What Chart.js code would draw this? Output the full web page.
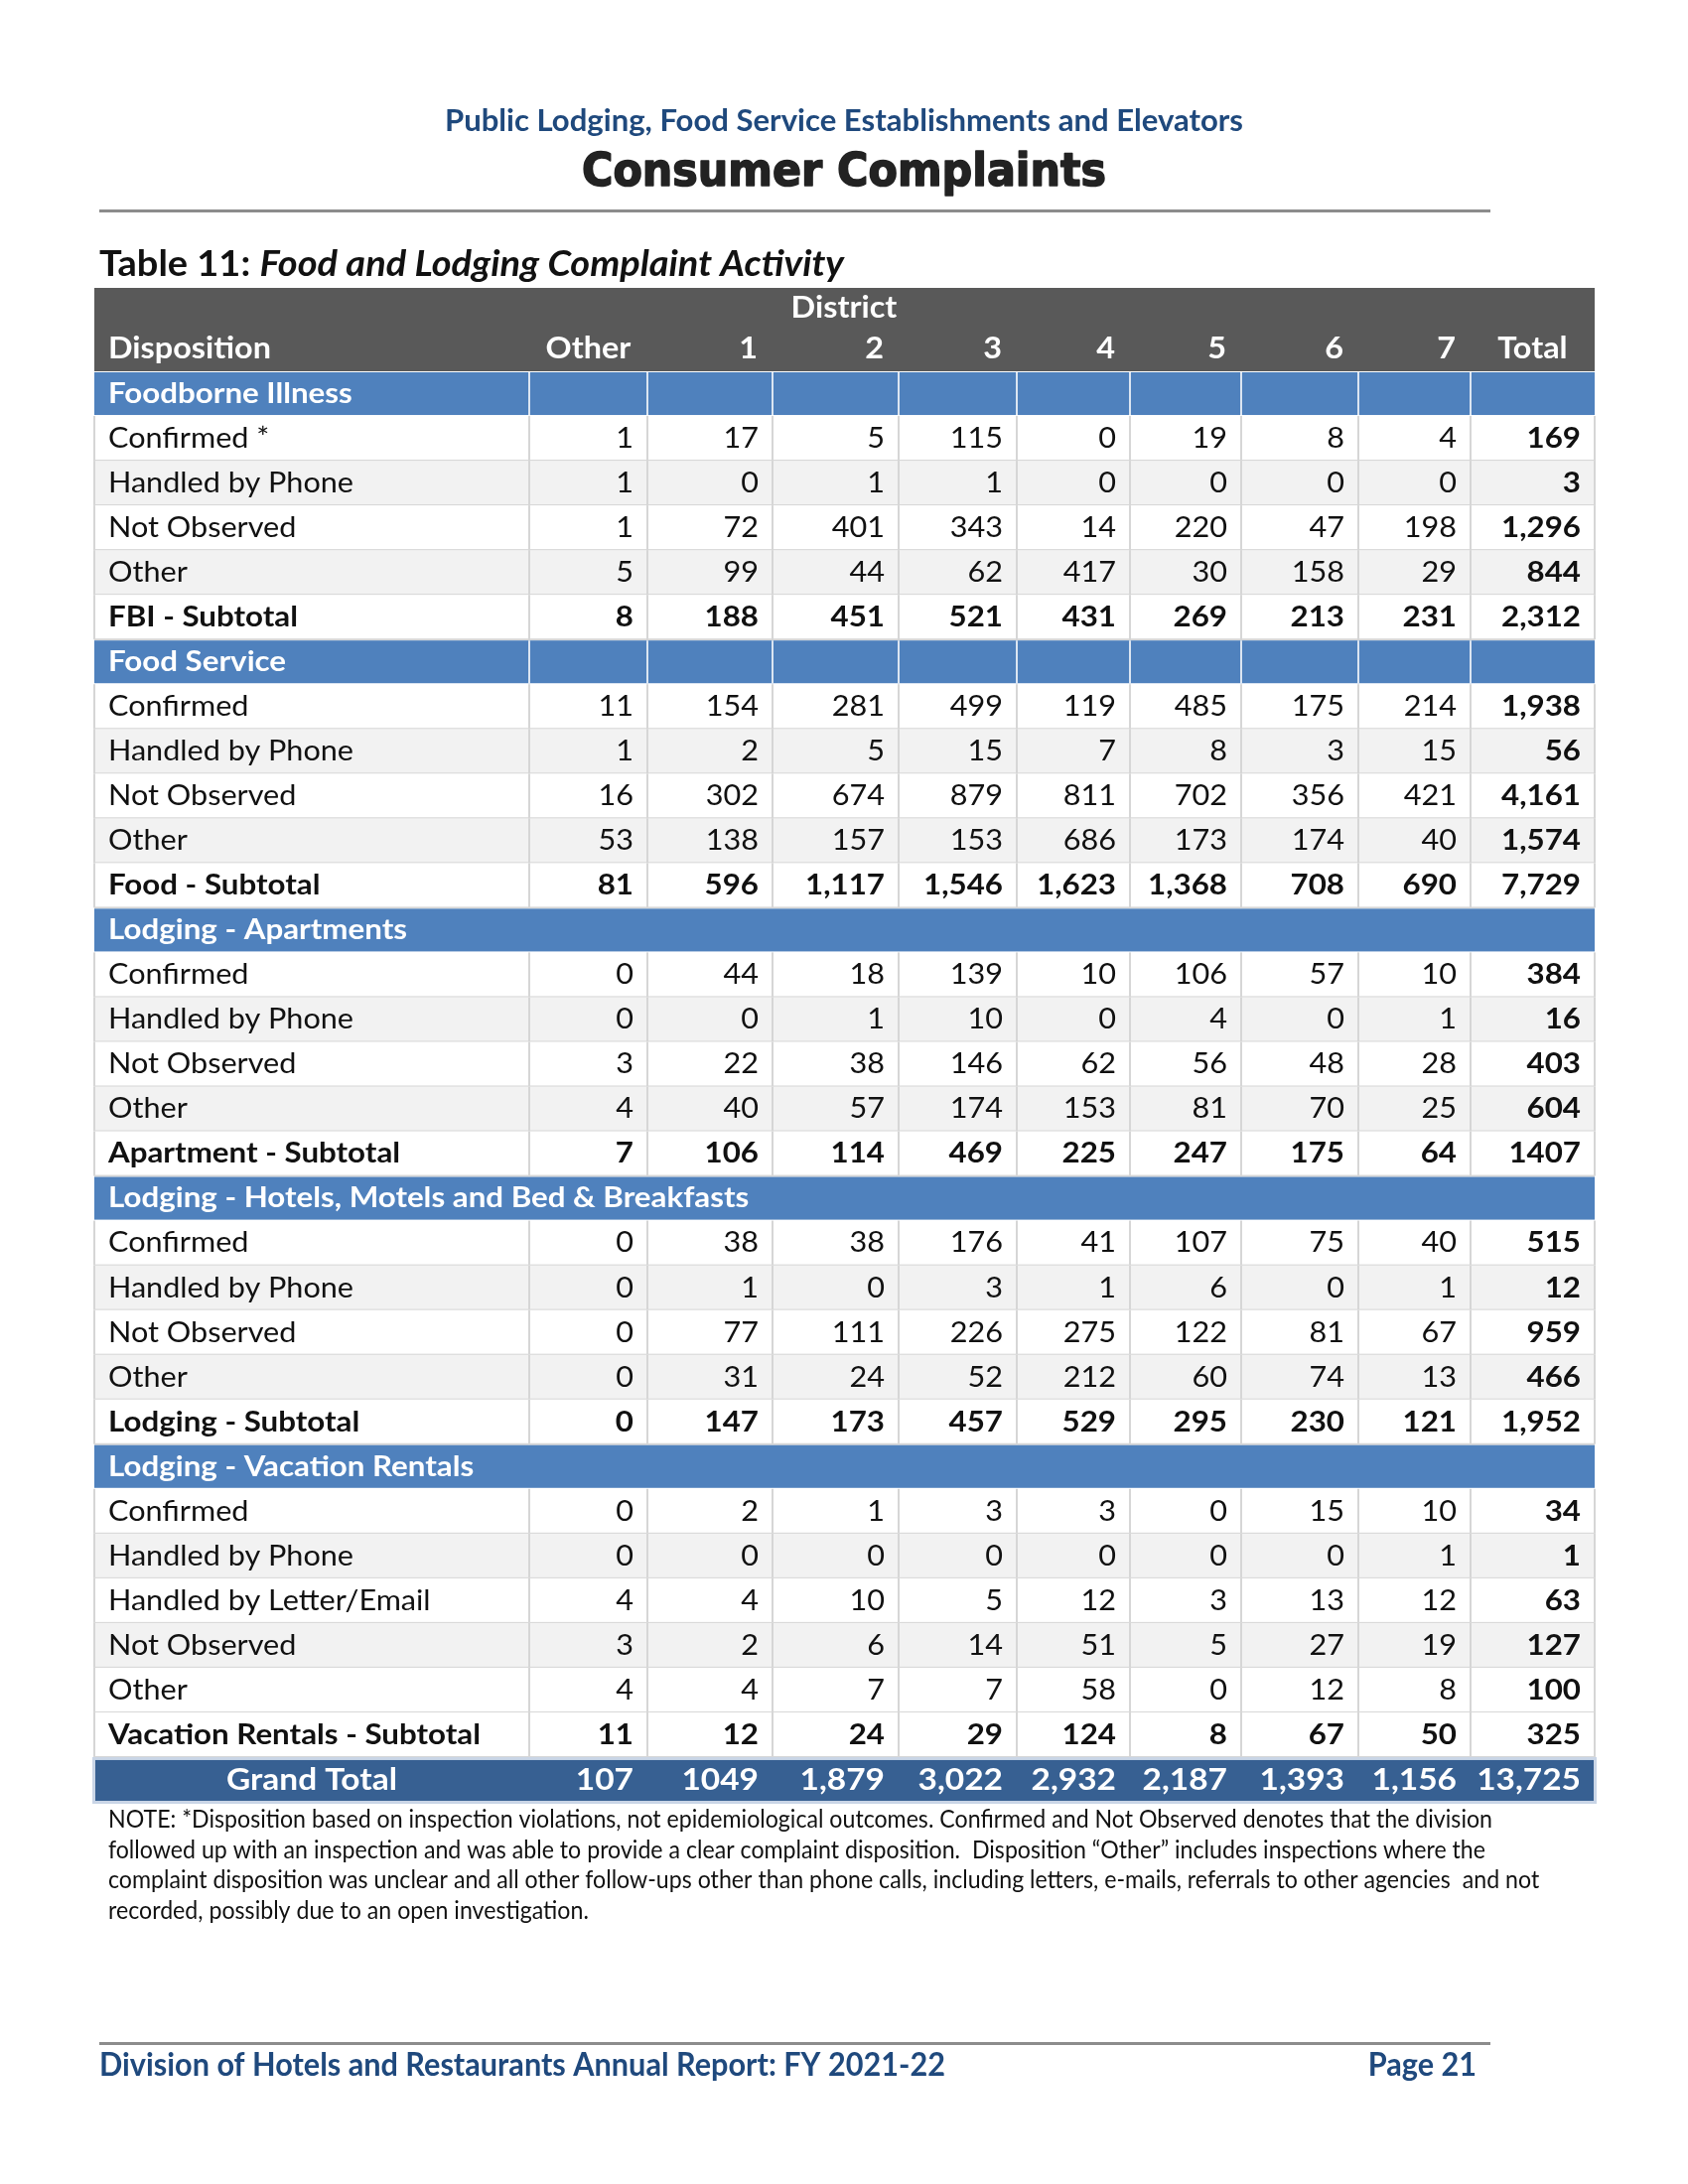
<!DOCTYPE html>
<html>
<head>
<meta charset="utf-8">
<script src="https://cdn.jsdelivr.net/npm/chart.js@4/dist/chart.umd.min.js"></script>
<style>
  html, body { margin: 0; padding: 0; background: #fff; }
  canvas { display: block; }
</style>
</head>
<body>
<canvas id="page" width="1700" height="2200"></canvas>
<script>
// columns of the table
const columns = ["Other", "1", "2", "3", "4", "5", "6", "7", "Total"];

// Foodborne Illness
const fbiLabels = ["Confirmed *", "Handled by Phone", "Not Observed", "Other", "FBI - Subtotal"];
const fbiValues = [
  [1, 17, 5, 115, 0, 19, 8, 4, 169],
  [1, 0, 1, 1, 0, 0, 0, 0, 3],
  [1, 72, 401, 343, 14, 220, 47, 198, 1296],
  [5, 99, 44, 62, 417, 30, 158, 29, 844],
  [8, 188, 451, 521, 431, 269, 213, 231, 2312]
];

// Food Service
const foodLabels = ["Confirmed", "Handled by Phone", "Not Observed", "Other", "Food - Subtotal"];
const foodValues = [
  [11, 154, 281, 499, 119, 485, 175, 214, 1938],
  [1, 2, 5, 15, 7, 8, 3, 15, 56],
  [16, 302, 674, 879, 811, 702, 356, 421, 4161],
  [53, 138, 157, 153, 686, 173, 174, 40, 1574],
  [81, 596, 1117, 1546, 1623, 1368, 708, 690, 7729]
];

// Lodging - Apartments
const aptLabels = ["Confirmed", "Handled by Phone", "Not Observed", "Other", "Apartment - Subtotal"];
const aptValues = [
  [0, 44, 18, 139, 10, 106, 57, 10, 384],
  [0, 0, 1, 10, 0, 4, 0, 1, 16],
  [3, 22, 38, 146, 62, 56, 48, 28, 403],
  [4, 40, 57, 174, 153, 81, 70, 25, 604],
  [7, 106, 114, 469, 225, 247, 175, 64, 1407]
];

// Lodging - Hotels, Motels and B&B
const hotelLabels = ["Confirmed", "Handled by Phone", "Not Observed", "Other", "Lodging - Subtotal"];
const hotelValues = [
  [0, 38, 38, 176, 41, 107, 75, 40, 515],
  [0, 1, 0, 3, 1, 6, 0, 1, 12],
  [0, 77, 111, 226, 275, 122, 81, 67, 959],
  [0, 31, 24, 52, 212, 60, 74, 13, 466],
  [0, 147, 173, 457, 529, 295, 230, 121, 1952]
];

// Lodging - Vacation Rentals
const vacLabels = ["Confirmed", "Handled by Phone", "Handled by Letter/Email", "Not Observed", "Other", "Vacation Rentals - Subtotal"];
const vacValues = [
  [0, 2, 1, 3, 3, 0, 15, 10, 34],
  [0, 0, 0, 0, 0, 0, 0, 1, 1],
  [4, 4, 10, 5, 12, 3, 13, 12, 63],
  [3, 2, 6, 14, 51, 5, 27, 19, 127],
  [4, 4, 7, 7, 58, 0, 12, 8, 100],
  [11, 12, 24, 29, 124, 8, 67, 50, 325]
];

const grandTotal = [107, 1049, 1879, 3022, 2932, 2187, 1393, 1156, 13725];

const sectionTitles = ["Foodborne Illness", "Food Service", "Lodging - Apartments",
  "Lodging - Hotels, Motels and Bed & Breakfasts", "Lodging - Vacation Rentals"];

// cells printed without thousands separator in the report
const noComma = ["Apartment - Subtotal|8", "Grand Total|1"];

const noteLines = [
  "NOTE: *Disposition based on inspection violations, not epidemiological outcomes. Confirmed and Not Observed denotes that the division",
  "followed up with an inspection and was able to provide a clear complaint disposition.  Disposition \u201cOther\u201d includes inspections where the",
  "complaint disposition was unclear and all other follow-ups other than phone calls, including letters, e-mails, referrals to other agencies  and not",
  "recorded, possibly due to an open investigation."
];

// ---- layout (page pixels) ----
const colEdges = [0, 438, 557, 683, 810, 929, 1043, 1155, 1273, 1386, 1511];
const dividedSections = [true, true, false, false, false];
const BODY = "Lato, 'Open Sans', sans-serif";
const C = {
  header: '#595959', section: '#4f81bd', grand: '#376092', stripe: '#f2f2f2',
  grid: '#d6d6d6', navy: '#1f497d', text: '#111'
};

// build rows
const sections = [
  [fbiLabels, fbiValues], [foodLabels, foodValues], [aptLabels, aptValues],
  [hotelLabels, hotelValues], [vacLabels, vacValues]
];
const rows = [];
sections.forEach(([labels, values], s) => {
  rows.push({ kind: 'section', label: sectionTitles[s], sec: s });
  labels.forEach((lab, j) => {
    const sub = j === labels.length - 1;
    rows.push({ kind: sub ? 'subtotal' : 'data', label: lab, values: values[j], stripe: !sub && j % 2 === 1 });
  });
});
rows.push({ kind: 'grand', label: 'Grand Total', values: grandTotal });

function fmt(label, c, n) {
  if (noComma.includes(label + '|' + c)) return String(n);
  return n.toLocaleString('en-US');
}

function txt(ctx, s, x, y, font, color, align, sx, stroke) {
  ctx.save();
  ctx.font = font;
  ctx.fillStyle = color;
  ctx.textAlign = align || 'left';
  ctx.textBaseline = 'middle';
  ctx.translate(x, y);
  ctx.scale(sx || 1, 1);
  if (stroke) {
    ctx.strokeStyle = color;
    ctx.lineWidth = stroke;
    ctx.lineJoin = 'round';
    ctx.strokeText(s, 0, 0);
  }
  ctx.fillText(s, 0, 0);
  ctx.restore();
}
function fitScale(ctx, s, font, w) {
  ctx.save(); ctx.font = font;
  const m = ctx.measureText(s).width;
  ctx.restore();
  return w / m;
}

const tablePlugin = {
  id: 'tablePlugin',
  afterDraw(chart) {
    const ctx = chart.ctx;
    const xs = chart.scales.x, ys = chart.scales.y;
    const E = colEdges.map(v => xs.getPixelForValue(v));
    const L = E[0], R = E[E.length - 1];
    const band = ys.getPixelForValue(1) - ys.getPixelForValue(0);

    const fReg = "29px " + BODY, fBold = "bold 29px " + BODY;
    const sxR = fitScale(ctx, 'Handled by Phone', fReg, 247);
    const sxB = fitScale(ctx, 'Vacation Rentals - Subtotal', fBold, 375);

    // page titles
    const fSub = "bold 31px " + BODY;
    txt(ctx, 'Public Lodging, Food Service Establishments and Elevators', 850, 122, fSub, C.navy, 'center',
      fitScale(ctx, 'Public Lodging, Food Service Establishments and Elevators', fSub, 804));
    const fBig = "bold 46px 'DejaVu Sans', sans-serif";
    txt(ctx, 'Consumer Complaints', 850, 175, fBig, '#222', 'center', fitScale(ctx, 'Consumer Complaints', fBig, 528), 1.6);
    ctx.fillStyle = '#8c8c8c';
    ctx.fillRect(100, 211, 1401, 3);

    const fT1 = "bold 36px " + BODY, fT2 = "italic bold 36px " + BODY;
    ctx.save();
    ctx.font = fT1; const w1 = ctx.measureText('Table 11: ').width;
    ctx.font = fT2; const w2 = ctx.measureText('Food and Lodging Complaint Activity').width;
    ctx.restore();
    const sT = 750 / (w1 + w2);
    txt(ctx, 'Table 11: ', 100, 266, fT1, '#111', 'left', sT);
    txt(ctx, 'Food and Lodging Complaint Activity', 100 + w1 * sT, 266, fT2, '#111', 'left', sT);

    // header block
    const top0 = ys.getPixelForValue(0) - band / 2;
    ctx.fillStyle = C.header;
    ctx.fillRect(L, 290, R - L, top0 - 290);
    const fHead = "bold 30px " + BODY;
    txt(ctx, 'District', 850, 310, fHead, '#fff', 'center', sxB);
    txt(ctx, 'Disposition', L + 14, 351, fHead, '#fff', 'left', sxB);
    columns.forEach((c, i) => {
      if (i === 0 || i === columns.length - 1) {
        txt(ctx, c, (E[i + 1] + E[i + 2]) / 2, 351, fHead, '#fff', 'center', sxB);
      } else {
        txt(ctx, c, E[i + 2] - 15, 351, fHead, '#fff', 'right', sxB);
      }
    });

    // rows
    rows.forEach((r, i) => {
      const cy = ys.getPixelForValue(i);
      const t = cy - band / 2, b = cy + band / 2;
      if (r.kind === 'section') {
        ctx.fillStyle = C.section;
        ctx.fillRect(L, t + 1, R - L, band - 2);
        if (dividedSections[r.sec]) {
          ctx.fillStyle = '#dbe5f1';
          for (let k = 1; k < E.length - 1; k++) ctx.fillRect(E[k] - 1, t + 1, 2, band - 2);
        }
        txt(ctx, r.label, L + 14, cy, "bold 29px " + BODY, '#fff', 'left', sxB);
        return;
      }
      if (r.kind === 'grand') {
        ctx.fillStyle = '#c9d5e6';
        ctx.fillRect(L - 2, t, R - L + 4, band + 2);
        ctx.fillStyle = C.grand;
        ctx.fillRect(L + 1, t + 3, R - L - 2, band - 4);
        const fG = "bold 31px " + BODY;
        txt(ctx, r.label, (E[0] + E[1]) / 2, cy + 1, fG, '#fff', 'center', sxB);
        r.values.forEach((v, c) => {
          txt(ctx, fmt(r.label, c, v), E[c + 2] - 14, cy + 1, fG, '#fff', 'right', sxB);
        });
        return;
      }
      ctx.fillStyle = r.stripe ? C.stripe : '#fff';
      ctx.fillRect(L, t, R - L, band);
      // cell borders
      ctx.fillStyle = C.grid;
      ctx.fillRect(L, b - 1, R - L, 2);
      for (let k = 0; k < E.length; k++) ctx.fillRect(E[k] - 1, t, 2, band);
      const sub = r.kind === 'subtotal';
      txt(ctx, r.label, L + 14, cy, sub ? fBold : fReg, C.text, 'left', sub ? sxB : sxR);
      r.values.forEach((v, c) => {
        const bold = sub || c === r.values.length - 1;
        txt(ctx, fmt(r.label, c, v), E[c + 2] - 14, cy, bold ? fBold : fReg, C.text, 'right', bold ? sxB : sxR);
      });
    });

    // note
    const fNote = "25px " + BODY;
    const sN = fitScale(ctx, noteLines[0], fNote, 1394);
    noteLines.forEach((s, k) => txt(ctx, s, 109, 1833 + k * 30.5, fNote, '#111', 'left', sN));

    // footer
    ctx.fillStyle = '#8c8c8c';
    ctx.fillRect(100, 2057, 1401, 3);
    const fFoot = "bold 33px " + BODY;
    const footText = 'Division of Hotels and Restaurants Annual Report: FY 2021-22';
    const sF = fitScale(ctx, footText, fFoot, 852);
    txt(ctx, footText, 100, 2080, fFoot, C.navy, 'left', sF);
    txt(ctx, 'Page 21', 1487, 2080, fFoot, C.navy, 'right', sF);
  }
};

new Chart(document.getElementById('page'), {
  type: 'line',
  data: { labels: rows.map(r => r.label), datasets: [] },
  options: {
    responsive: false,
    animation: false,
    layout: { padding: { left: 95, right: 94, top: 374, bottom: 385 } },
    plugins: { legend: { display: false }, tooltip: { enabled: false } },
    scales: {
      x: { type: 'linear', min: 0, max: colEdges[colEdges.length - 1], display: false },
      y: { type: 'category', offset: true, display: false }
    }
  },
  plugins: [tablePlugin]
});
</script>
</body>
</html>
